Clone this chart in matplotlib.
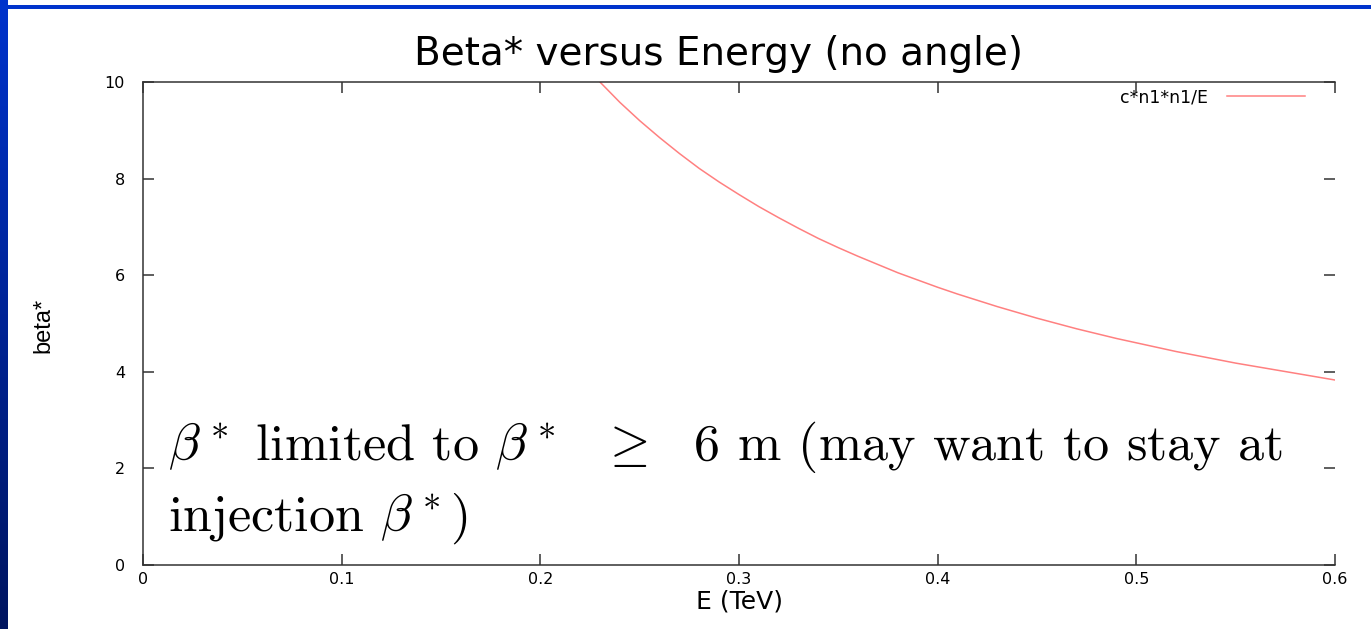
import matplotlib
matplotlib.use("Agg")
import matplotlib.pyplot as plt
import numpy as np

# values: beta* = c*n1*n1/E
energy = [0.23, 0.24, 0.25, 0.26, 0.27, 0.28, 0.29, 0.30, 0.31, 0.32,
          0.33, 0.34, 0.35, 0.36, 0.37, 0.38, 0.39, 0.40, 0.41, 0.42,
          0.43, 0.44, 0.45, 0.46, 0.47, 0.48, 0.49, 0.50, 0.51, 0.52,
          0.53, 0.54, 0.55, 0.56, 0.57, 0.58, 0.59, 0.60]
beta_star = [10.0, 9.58, 9.20, 8.85, 8.52, 8.21, 7.93, 7.67, 7.42, 7.19,
             6.97, 6.76, 6.57, 6.39, 6.22, 6.05, 5.90, 5.75, 5.61, 5.48,
             5.35, 5.23, 5.11, 5.00, 4.89, 4.79, 4.69, 4.60, 4.51, 4.42,
             4.34, 4.26, 4.18, 4.11, 4.04, 3.97, 3.90, 3.83]
series_label = "c*n1*n1/E"
x_ticks = [0, 0.1, 0.2, 0.3, 0.4, 0.5, 0.6]
x_tick_labels = ["0", "0.1", "0.2", "0.3", "0.4", "0.5", "0.6"]
y_ticks = [0, 2, 4, 6, 8, 10]

plt.rcParams['font.family'] = ['DejaVu Sans']
plt.rcParams['mathtext.fontset'] = 'cm'

fig = plt.figure(figsize=(13.71, 6.29), dpi=100)

# slide decoration: blue gradient strip on the left, blue line at the top
strip = fig.add_axes([0, 0, 8 / 1371, 1])
grad = np.linspace(0, 1, 256).reshape(-1, 1)
strip.imshow(grad, aspect='auto', cmap=matplotlib.colors.LinearSegmentedColormap.from_list(
    "slide", ["#0033cc", "#001560"]), extent=[0, 1, 0, 1])
strip.axis('off')
fig.add_artist(plt.Rectangle((0, 1 - 8.5 / 629), 1, 3.5 / 629, transform=fig.transFigure,
                             color="#0033cc", lw=0))

ax = fig.add_axes([143 / 1371, 1 - 565 / 629, (1335 - 143) / 1371, (565 - 82) / 629])
ax.plot(energy, beta_star, color="#ff8080", lw=1.1, label=series_label)

ax.set_xlim(0, 0.6)
ax.set_ylim(0, 10)
ax.set_xticks(x_ticks)
ax.set_xticklabels(x_tick_labels)
ax.set_yticks(y_ticks)
for s in ax.spines.values():
    s.set_color("#333333")
    s.set_linewidth(1.1)
ax.spines['right'].set_visible(False)
ax.tick_params(direction='in', length=8, width=1.1, color="#333333",
               top=True, right=True, labelsize=11.5)
ax.tick_params(axis='y', pad=13)
ax.tick_params(axis='x', pad=5)

ax.set_title("Beta* versus Energy (no angle)", fontsize=28, x=0.483, pad=12)
ax.set_xlabel("E (TeV)", fontsize=18)
ax.xaxis.set_label_coords(0.5, -0.05)
ax.set_ylabel("beta*", fontsize=17, family=['Liberation Sans'])
ax.yaxis.set_label_coords(-0.074, 0.497)

leg = ax.legend(loc='upper right', bbox_to_anchor=(1 - 30 / 1192, 1 - 6 / 483),
                frameon=False, markerfirst=False, fontsize=12.5, handlelength=4.5,
                handletextpad=1.1, borderaxespad=0, borderpad=0)

txt_kw = dict(transform=ax.transAxes, fontsize=37.5, family='cmr10', va='baseline')
ax.text(0.021, 0.217, r"$\beta^*$ limited to $\beta^*$  $\geq$  6 m (may want to stay at", **txt_kw)
ax.text(0.021, 0.072, r"injection $\beta^*$)", **txt_kw)

fig.savefig("out.png", dpi=100)
